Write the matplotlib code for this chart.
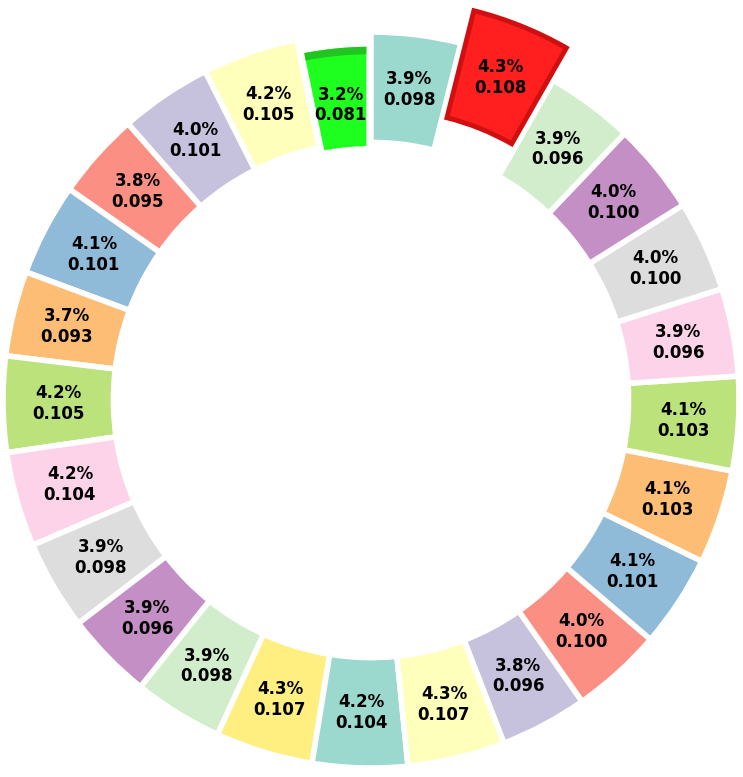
import matplotlib
matplotlib.use("Agg")
import matplotlib.pyplot as plt
from matplotlib.patches import Wedge
from matplotlib.colors import to_rgba
import numpy as np

# data in drawing order (counter-clockwise from the top)
values = [0.0808, 0.1050, 0.1009, 0.0951, 0.1013, 0.0932, 0.1050, 0.1040,
          0.0980, 0.0962, 0.0980, 0.1070, 0.1040, 0.1070, 0.0957, 0.1000,
          0.1013, 0.1030, 0.1030, 0.0962, 0.1000, 0.1000, 0.0962, 0.1080,
          0.0980]

base_colors = ['#8dd3c7', '#ffffb3', '#bebada', '#fb8072', '#80b1d3', '#fdb462',
               '#b3de69', '#fccde5', '#d9d9d9', '#bc80bd', '#ccebc5', '#ffed6f']

vals = np.array(values)
imax = int(np.argmax(vals))
imin = int(np.argmin(vals))
total = vals.sum()

colors = [to_rgba(base_colors[i % len(base_colors)], 0.88) for i in range(len(values))]
colors[imax] = to_rgba('#ff0000', 0.88)
colors[imin] = to_rgba('#00ff00', 0.88)
explode = [0.0] * len(values)
explode[imax] = 0.095
explode[imin] = -0.025

fig = plt.figure(figsize=(7.43, 7.77), dpi=100)
ax = fig.add_axes([0, 0, 1, 1])

r_px = 368.0

wedges, texts, autotexts = ax.pie(
    vals, colors=colors, explode=explode, startangle=90,
    pctdistance=0.85,
    autopct=lambda p: f"{p:.1f}%\n{p * total / 100:.3f}",
    wedgeprops=dict(width=0.3, edgecolor='white', linewidth=4),
    textprops=dict(fontsize=12, fontweight='bold', color='black'),
)
wedges[imax].set_edgecolor('#d01010')
wedges[imax].set_linewidth(3.5)
wedges[imax].set_zorder(5)

# minimum wedge: thicker white outline and darker outer band
wmin = wedges[imin]
wmin.set_linewidth(8)
half = 8 * 100 / 72 / 2 / r_px
dth = np.degrees(half / 0.97)
band = Wedge(wmin.center, wmin.r - half, wmin.theta1 + dth, wmin.theta2 - dth,
             width=7.5 / r_px, facecolor='#22c422', edgecolor='none',
             zorder=wmin.get_zorder() + 0.5)
ax.add_patch(band)

# label of the minimum wedge sits a little further inward
tx, ty = autotexts[imin].get_position()
rr = np.hypot(tx, ty)
scale = (rr - 7 / r_px) / rr
autotexts[imin].set_position((tx * scale, ty * scale))
for t in autotexts:
    t.set_zorder(6)

cx, cy = 371.0, 377.0  # center in pixels from left / bottom
ax.set_xlim(-cx / r_px, (743 - cx) / r_px)
ax.set_ylim(-cy / r_px, (777 - cy) / r_px)
ax.set_aspect('equal')
ax.axis('off')

fig.savefig('out.png', dpi=100)
